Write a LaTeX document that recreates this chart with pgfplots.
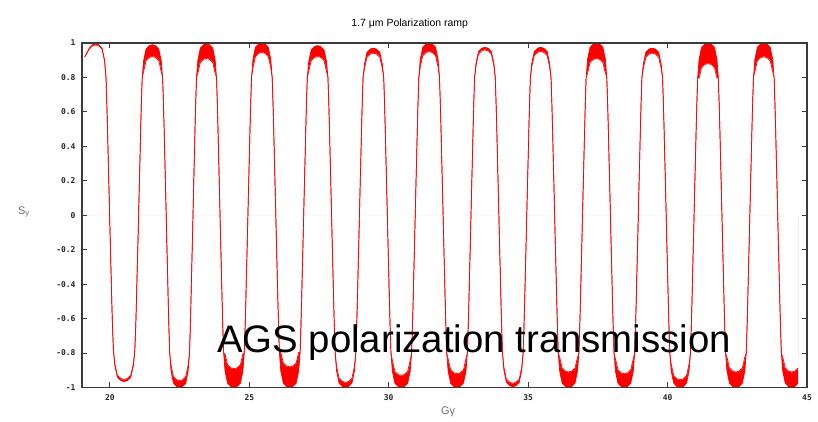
\documentclass[border=0pt]{standalone}
\usepackage{fontspec}
\setmainfont{Liberation Sans}
\newfontfamily\tickfont{DejaVu Sans Mono}
\usepackage{pgfplots}
\pgfplotsset{compat=1.18}
\usepackage{pgfplotstable}
\definecolor{axisgray}{HTML}{3A3A3A}
\definecolor{labgray}{HTML}{707070}
\pgfplotstableread{
x o i
19.10 0.92 0.92
19.26 0.970 0.964
19.38 0.990 0.984
19.49 0.995 0.989
19.60 0.990 0.984
19.72 0.970 0.964
19.81 0.900 0.895
19.86 0.80 0.80
19.89 0.65 0.65
19.915 0.50 0.50
19.94 0.33 0.33
19.965 0.17 0.17
19.99 0 0
20.016 -0.17 -0.17
20.042 -0.33 -0.33
20.068 -0.50 -0.50
20.094 -0.65 -0.65
20.125 -0.78 -0.78
20.177 -0.873 -0.862
20.271 -0.941 -0.929
20.396 -0.960 -0.948
20.51 -0.965 -0.953
20.624 -0.960 -0.948
20.749 -0.941 -0.929
20.843 -0.873 -0.862
20.895 -0.78 -0.78
20.926 -0.65 -0.65
20.952 -0.50 -0.50
20.978 -0.33 -0.33
21.004 -0.17 -0.17
21.03 0 0
21.055 0.17 0.17
21.08 0.33 0.33
21.104 0.50 0.50
21.129 0.65 0.65
21.159 0.80 0.80
21.208 0.896 0.833
21.297 0.965 0.898
21.416 0.985 0.916
21.525 0.990 0.921
21.634 0.985 0.916
21.753 0.965 0.898
21.842 0.896 0.833
21.891 0.80 0.80
21.921 0.65 0.65
21.946 0.50 0.50
21.971 0.33 0.33
21.995 0.17 0.17
22.02 0 0
22.044 -0.17 -0.17
22.068 -0.33 -0.33
22.092 -0.50 -0.50
22.116 -0.65 -0.65
22.145 -0.80 -0.80
22.193 -0.905 -0.869
22.279 -0.975 -0.936
22.394 -0.995 -0.955
22.50 -1 -0.96
22.606 -0.995 -0.955
22.721 -0.975 -0.936
22.807 -0.905 -0.869
22.855 -0.80 -0.80
22.884 -0.65 -0.65
22.908 -0.50 -0.50
22.932 -0.33 -0.33
22.956 -0.17 -0.17
22.98 0 0
23.004 0.17 0.17
23.029 0.33 0.33
23.053 0.50 0.50
23.077 0.65 0.65
23.106 0.80 0.80
23.155 0.900 0.824
23.242 0.970 0.887
23.358 0.990 0.905
23.465 0.995 0.910
23.572 0.990 0.905
23.688 0.970 0.887
23.775 0.900 0.824
23.824 0.80 0.80
23.853 0.65 0.65
23.877 0.50 0.50
23.902 0.33 0.33
23.926 0.17 0.17
23.95 0 0
23.975 -0.17 -0.17
24.00 -0.33 -0.33
24.025 -0.50 -0.50
24.05 -0.65 -0.65
24.08 -0.80 -0.80
24.13 -0.905 -0.805
24.22 -0.975 -0.868
24.34 -0.995 -0.886
24.45 -1 -0.89
24.56 -0.995 -0.886
24.68 -0.975 -0.868
24.77 -0.905 -0.805
24.82 -0.80 -0.80
24.85 -0.65 -0.65
24.875 -0.50 -0.50
24.90 -0.33 -0.33
24.925 -0.17 -0.17
24.95 0 0
24.975 0.17 0.17
25.00 0.33 0.33
25.025 0.50 0.50
25.05 0.65 0.65
25.08 0.80 0.80
25.13 0.905 0.855
25.22 0.975 0.921
25.34 0.995 0.940
25.45 1 0.945
25.56 0.995 0.940
25.68 0.975 0.921
25.77 0.905 0.855
25.82 0.80 0.80
25.85 0.65 0.65
25.875 0.50 0.50
25.90 0.33 0.33
25.925 0.17 0.17
25.95 0 0
25.975 -0.17 -0.17
26.00 -0.33 -0.33
26.025 -0.50 -0.50
26.05 -0.65 -0.65
26.08 -0.80 -0.80
26.13 -0.905 -0.796
26.22 -0.975 -0.858
26.34 -0.995 -0.876
26.45 -1 -0.88
26.56 -0.995 -0.876
26.68 -0.975 -0.858
26.77 -0.905 -0.796
26.82 -0.80 -0.80
26.85 -0.65 -0.65
26.875 -0.50 -0.50
26.90 -0.33 -0.33
26.925 -0.17 -0.17
26.95 0 0
26.975 0.17 0.17
27.00 0.33 0.33
27.025 0.50 0.50
27.05 0.65 0.65
27.08 0.80 0.80
27.13 0.891 0.834
27.22 0.960 0.898
27.34 0.980 0.916
27.45 0.985 0.921
27.56 0.980 0.916
27.68 0.960 0.898
27.77 0.891 0.834
27.82 0.80 0.80
27.85 0.65 0.65
27.875 0.50 0.50
27.90 0.33 0.33
27.925 0.17 0.17
27.95 0 0
27.975 -0.17 -0.17
28.00 -0.33 -0.33
28.025 -0.50 -0.50
28.05 -0.65 -0.65
28.08 -0.80 -0.80
28.13 -0.905 -0.878
28.22 -0.975 -0.946
28.34 -0.995 -0.965
28.45 -1 -0.97
28.56 -0.995 -0.965
28.68 -0.975 -0.946
28.77 -0.905 -0.878
28.82 -0.80 -0.80
28.85 -0.65 -0.65
28.875 -0.50 -0.50
28.90 -0.33 -0.33
28.925 -0.17 -0.17
28.95 0 0
28.975 0.17 0.17
29.00 0.33 0.33
29.025 0.50 0.50
29.05 0.65 0.65
29.08 0.80 0.80
29.13 0.878 0.852
29.22 0.946 0.917
29.34 0.965 0.936
29.45 0.970 0.941
29.56 0.965 0.936
29.68 0.946 0.917
29.77 0.878 0.852
29.82 0.80 0.80
29.85 0.65 0.65
29.875 0.50 0.50
29.90 0.33 0.33
29.925 0.17 0.17
29.95 0 0
29.975 -0.17 -0.17
30.00 -0.33 -0.33
30.025 -0.50 -0.50
30.05 -0.65 -0.65
30.08 -0.80 -0.80
30.13 -0.905 -0.842
30.22 -0.975 -0.907
30.34 -0.995 -0.925
30.45 -1 -0.93
30.56 -0.995 -0.925
30.68 -0.975 -0.907
30.77 -0.905 -0.842
30.82 -0.80 -0.80
30.85 -0.65 -0.65
30.875 -0.50 -0.50
30.90 -0.33 -0.33
30.925 -0.17 -0.17
30.95 0 0
30.975 0.17 0.17
31.00 0.33 0.33
31.025 0.50 0.50
31.05 0.65 0.65
31.08 0.80 0.80
31.13 0.905 0.860
31.22 0.975 0.926
31.34 0.995 0.945
31.45 1 0.95
31.56 0.995 0.945
31.68 0.975 0.926
31.77 0.905 0.860
31.82 0.80 0.80
31.85 0.65 0.65
31.875 0.50 0.50
31.90 0.33 0.33
31.925 0.17 0.17
31.95 0 0
31.975 -0.17 -0.17
32.00 -0.33 -0.33
32.025 -0.50 -0.50
32.05 -0.65 -0.65
32.08 -0.80 -0.80
32.13 -0.905 -0.833
32.22 -0.975 -0.897
32.34 -0.995 -0.915
32.45 -1 -0.92
32.56 -0.995 -0.915
32.68 -0.975 -0.897
32.77 -0.905 -0.833
32.82 -0.80 -0.80
32.85 -0.65 -0.65
32.875 -0.50 -0.50
32.90 -0.33 -0.33
32.925 -0.17 -0.17
32.95 0 0
32.975 0.17 0.17
33.00 0.33 0.33
33.025 0.50 0.50
33.05 0.65 0.65
33.08 0.80 0.80
33.13 0.882 0.869
33.22 0.951 0.936
33.34 0.970 0.955
33.45 0.975 0.960
33.56 0.970 0.955
33.68 0.951 0.936
33.77 0.882 0.869
33.82 0.80 0.80
33.85 0.65 0.65
33.875 0.50 0.50
33.90 0.33 0.33
33.925 0.17 0.17
33.95 0 0
33.975 -0.17 -0.17
34.00 -0.33 -0.33
34.025 -0.50 -0.50
34.05 -0.65 -0.65
34.08 -0.80 -0.80
34.13 -0.900 -0.882
34.22 -0.970 -0.951
34.34 -0.990 -0.970
34.45 -0.995 -0.975
34.56 -0.990 -0.970
34.68 -0.970 -0.951
34.77 -0.900 -0.882
34.82 -0.80 -0.80
34.85 -0.65 -0.65
34.875 -0.50 -0.50
34.90 -0.33 -0.33
34.925 -0.17 -0.17
34.95 0 0
34.975 0.17 0.17
35.00 0.33 0.33
35.025 0.50 0.50
35.05 0.65 0.65
35.08 0.80 0.80
35.13 0.882 0.861
35.22 0.951 0.927
35.34 0.970 0.946
35.45 0.975 0.951
35.56 0.970 0.946
35.68 0.951 0.927
35.77 0.882 0.861
35.82 0.80 0.80
35.85 0.65 0.65
35.875 0.50 0.50
35.90 0.33 0.33
35.925 0.17 0.17
35.95 0 0
35.975 -0.17 -0.17
36.00 -0.33 -0.33
36.025 -0.50 -0.50
36.05 -0.65 -0.65
36.08 -0.80 -0.80
36.13 -0.905 -0.824
36.22 -0.975 -0.887
36.34 -0.995 -0.905
36.45 -1 -0.91
36.56 -0.995 -0.905
36.68 -0.975 -0.887
36.77 -0.905 -0.824
36.82 -0.80 -0.80
36.85 -0.65 -0.65
36.875 -0.50 -0.50
36.90 -0.33 -0.33
36.925 -0.17 -0.17
36.95 0 0
36.975 0.17 0.17
37.00 0.33 0.33
37.025 0.50 0.50
37.05 0.65 0.65
37.08 0.80 0.80
37.13 0.905 0.824
37.22 0.975 0.887
37.34 0.995 0.905
37.45 1 0.91
37.56 0.995 0.905
37.68 0.975 0.887
37.77 0.905 0.824
37.82 0.80 0.80
37.85 0.65 0.65
37.875 0.50 0.50
37.90 0.33 0.33
37.925 0.17 0.17
37.95 0 0
37.975 -0.17 -0.17
38.00 -0.33 -0.33
38.025 -0.50 -0.50
38.05 -0.65 -0.65
38.08 -0.80 -0.80
38.13 -0.905 -0.833
38.22 -0.975 -0.897
38.34 -0.995 -0.915
38.45 -1 -0.92
38.56 -0.995 -0.915
38.68 -0.975 -0.897
38.77 -0.905 -0.833
38.82 -0.80 -0.80
38.85 -0.65 -0.65
38.875 -0.50 -0.50
38.90 -0.33 -0.33
38.925 -0.17 -0.17
38.95 0 0
38.975 0.17 0.17
39.00 0.33 0.33
39.025 0.50 0.50
39.05 0.65 0.65
39.08 0.80 0.80
39.13 0.878 0.852
39.22 0.946 0.917
39.34 0.965 0.936
39.45 0.970 0.941
39.56 0.965 0.936
39.68 0.946 0.917
39.77 0.878 0.852
39.82 0.80 0.80
39.85 0.65 0.65
39.875 0.50 0.50
39.90 0.33 0.33
39.925 0.17 0.17
39.95 0 0
39.975 -0.17 -0.17
40.00 -0.33 -0.33
40.025 -0.50 -0.50
40.05 -0.65 -0.65
40.08 -0.80 -0.80
40.13 -0.905 -0.864
40.22 -0.975 -0.931
40.34 -0.995 -0.950
40.45 -1 -0.955
40.56 -0.995 -0.950
40.68 -0.975 -0.931
40.77 -0.905 -0.864
40.82 -0.80 -0.80
40.85 -0.65 -0.65
40.875 -0.50 -0.50
40.90 -0.33 -0.33
40.925 -0.17 -0.17
40.95 0 0
40.975 0.17 0.17
41.00 0.33 0.33
41.025 0.50 0.50
41.05 0.65 0.65
41.08 0.80 0.80
41.13 0.905 0.796
41.22 0.975 0.858
41.34 0.995 0.876
41.45 1 0.88
41.56 0.995 0.876
41.68 0.975 0.858
41.77 0.905 0.796
41.82 0.80 0.80
41.85 0.65 0.65
41.875 0.50 0.50
41.90 0.33 0.33
41.925 0.17 0.17
41.95 0 0
41.975 -0.17 -0.17
42.00 -0.33 -0.33
42.025 -0.50 -0.50
42.05 -0.65 -0.65
42.08 -0.80 -0.80
42.13 -0.905 -0.824
42.22 -0.975 -0.887
42.34 -0.995 -0.905
42.45 -1 -0.91
42.56 -0.995 -0.905
42.68 -0.975 -0.887
42.77 -0.905 -0.824
42.82 -0.80 -0.80
42.85 -0.65 -0.65
42.875 -0.50 -0.50
42.90 -0.33 -0.33
42.925 -0.17 -0.17
42.95 0 0
42.975 0.17 0.17
43.00 0.33 0.33
43.025 0.50 0.50
43.05 0.65 0.65
43.08 0.80 0.80
43.13 0.905 0.833
43.22 0.975 0.897
43.34 0.995 0.915
43.45 1 0.92
43.56 0.995 0.915
43.68 0.975 0.897
43.77 0.905 0.833
43.82 0.80 0.80
43.85 0.65 0.65
43.875 0.50 0.50
43.90 0.33 0.33
43.925 0.17 0.17
43.95 0 0
43.975 -0.17 -0.17
44.00 -0.33 -0.33
44.025 -0.50 -0.50
44.05 -0.65 -0.65
44.08 -0.80 -0.80
44.13 -0.905 -0.824
44.22 -0.975 -0.887
44.34 -0.995 -0.905
44.45 -1 -0.91
44.56 -0.995 -0.905
44.68 -0.975 -0.887
}\sydata
\begin{document}
\begin{tikzpicture}
\begin{axis}[
  name=ax,
  at={(82bp,34.5bp)}, anchor=south west,
  scale only axis, width=725bp, height=344.5bp,
  xmin=19, xmax=45, ymin=-1, ymax=1,
  xtick={20,25,30,35,40,45},
  ytick={-1,-0.8,-0.6,-0.4,-0.2,0,0.2,0.4,0.6,0.8,1},
  yticklabels={-1,-0.8,-0.6,-0.4,-0.2,0,0.2,0.4,0.6,0.8,1},
  xticklabels={20,25,30,35,40,45},
  tick align=inside, major tick length=5bp,
  axis on top,
  axis line style={axisgray, line width=1.3bp},
  tick style={axisgray, line width=1bp},
  ticklabel style={font=\tickfont\bfseries\fontsize{8}{9}\selectfont, text=black!85},
  yticklabel style={xshift=-3bp},
  xticklabel style={yshift=-4bp},
  /pgf/number format/assume math mode=true,
  title={1.7 μm Polarization ramp},
  title style={at={(axis description cs:0.452,1.061)}, anchor=center, yshift=-8bp, font=\fontsize{10.5}{12}\selectfont},
  xlabel={Gγ},
  xlabel style={at={(axis description cs:0.505,-0.071)}, anchor=center, font=\fontsize{11}{12}\selectfont, text=labgray},
  ylabel={S\textsubscript{y}},
  ylabel style={rotate=-90, at={(axis description cs:-0.080,0.509)}, anchor=center, font=\fontsize{11}{12}\selectfont, text=labgray},
  clip=true,
]
\addplot[fill=red, draw=none] table[x=x, y=o] {\sydata} \closedcycle;
\addplot[fill=white, draw=white, line width=0.6bp] table[x=x, y=i] {\sydata} \closedcycle;
\addplot[draw=red, line width=0.7bp] table[x=x, y=o] {\sydata};
\addplot[draw=red, line width=0.7bp] table[x=x, y=i] {\sydata};
\node[anchor=base, font=\fontsize{38.5}{40}\selectfont, text=black] at (axis cs:33.06,-0.797) {AGS polarization transmission};
\end{axis}
\path (ax.south west) ++(-82bp,-34.5bp) rectangle ++(818bp,422bp);
\end{tikzpicture}
\end{document}
